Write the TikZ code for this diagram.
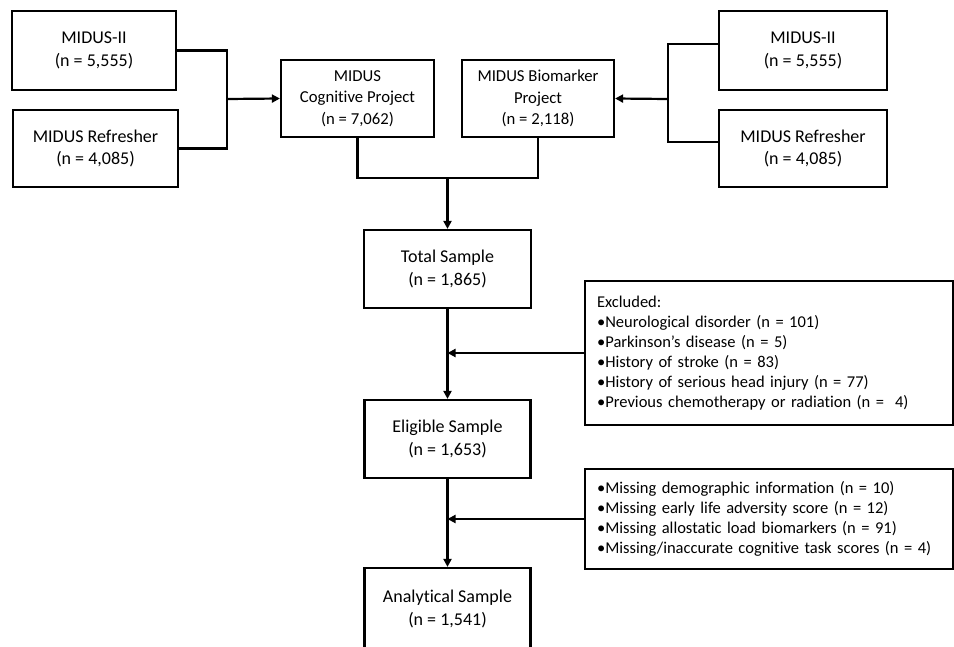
\documentclass[tikz,border=0pt]{standalone}
\usepackage{fontspec}
\setmainfont{Carlito}[Ligatures=NoCommon]
\usetikzlibrary{arrows.meta}
\begin{document}
\begin{tikzpicture}[x=1pt,y=-1pt,
  box/.style={draw, line width=2.2pt, inner sep=0pt, align=center},
  big/.style={font=\fontsize{18}{22.5}\selectfont},
  mid/.style={font=\fontsize{16.7}{21.5}\selectfont},
  listbox/.style={draw, line width=2.2pt, anchor=west, align=left, inner xsep=12pt, inner ysep=0pt, text width=344pt, font=\fontsize{16.5}{20}\selectfont},
  conn/.style={line width=2.2pt},
  arr/.style={conn, -{Triangle[length=8pt,width=8pt]}}]
\fill[white] (0,0) rectangle (954,646);
\useasboundingbox (0,0) rectangle (954,646);
\clip (0,0) rectangle (954,646);

\node[box,big,minimum width=164pt,minimum height=79pt] (L1) at (94,50.5) {MIDUS-II\\(n = 5,555)};
\node[box,big,minimum width=165pt,minimum height=77pt] (L2) at (95.5,148.5) {MIDUS Refresher\\(n = 4,085)};
\node[box,mid,minimum width=153pt,minimum height=77pt] (Cog) at (357.5,98.5) {MIDUS\\Cognitive Project\\(n = 7,062)};
\node[box,mid,minimum width=152pt,minimum height=77pt] (Bio) at (538,98.5) {MIDUS Biomarker\\Project\\(n = 2,118)};
\node[box,big,minimum width=168pt,minimum height=79pt] (R1) at (803,50.5) {MIDUS-II\\(n = 5,555)};
\node[box,big,minimum width=168pt,minimum height=77pt] (R2) at (803,148.5) {MIDUS Refresher\\(n = 4,085)};
\node[box,big,minimum width=167pt,minimum height=78pt] (Total) at (447.5,269) {Total Sample\\(n = 1,865)};
\node[box,big,minimum width=166pt,minimum height=78pt] (Elig) at (447.5,439) {Eligible Sample\\(n = 1,653)};
\node[box,big,minimum width=166pt,minimum height=82pt] (Anal) at (447.5,609) {Analytical Sample\\(n = 1,541)};
\node[listbox,minimum height=144pt] (Excl) at (584,353) {Excluded:\\
•Neurological disorder (n = 101)\\
•Parkinson’s disease (n = 5)\\
•History of stroke (n = 83)\\
•History of serious head injury (n = 77)\\
•Previous chemotherapy or radiation (n =\ \ 4)};
\node[listbox,minimum height=100pt] (Miss) at (584,519) {•Missing demographic information (n = 10)\\
•Missing early life adversity score (n = 12)\\
•Missing allostatic load biomarkers (n = 91)\\
•Missing/inaccurate cognitive task scores (n = 4)};

\coordinate (jl) at (227,99);
\coordinate (jr) at (668,99);
\coordinate (jm) at (447.5,178);
\draw[conn] (L1.east) -| (jl) |- (L2.east);
\draw[arr] (jl) -- (Cog.west);
\draw[conn] ([yshift=6.5pt]R1.west) -| (jr) |- ([yshift=6.5pt]R2.west);
\draw[arr] (jr) -- (Bio.east);
\draw[conn] (Cog.south) |- (jm) -| (Bio.south);
\draw[arr] (jm) -- (Total.north);
\draw[arr] (Total.south) -- (Elig.north);
\draw[arr] (Elig.south) -- (Anal.north);
\draw[arr] (Excl.west) -- (Excl.west -| Total.south);
\draw[arr] (Miss.west) -- (Miss.west -| Elig.south);
\end{tikzpicture}
\end{document}
